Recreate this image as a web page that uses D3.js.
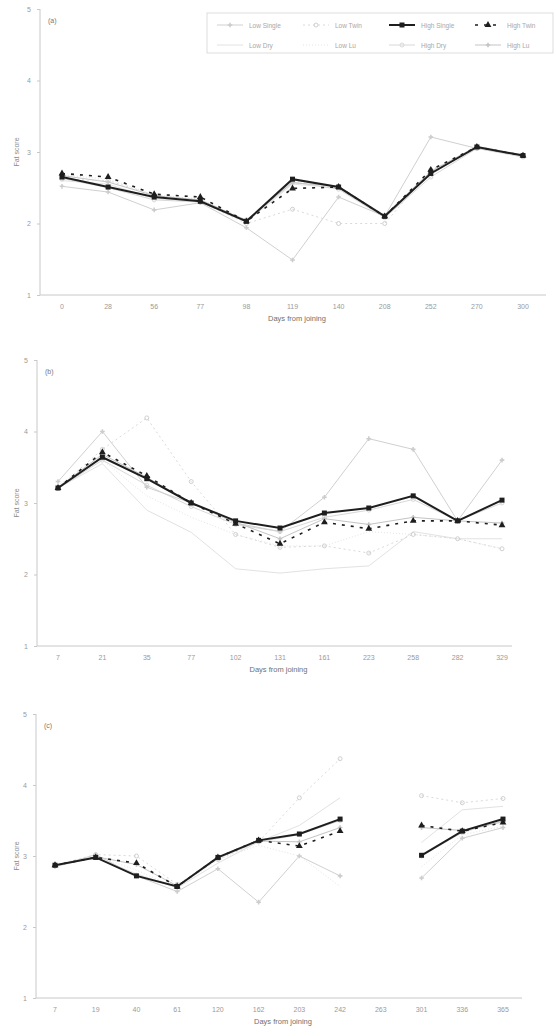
<!DOCTYPE html>
<html>
<head>
<meta charset="utf-8">
<script src="https://cdn.jsdelivr.net/npm/d3@7"></script>
<style>
  body { margin: 0; background: #fff; }
  svg { display: block; font-family: "Liberation Sans", Arial, sans-serif; }
  .tick text { fill: #9a9a9a; font-size: 7px; }
  .axis path, .axis line { stroke: #c8c8c8; }
</style>
</head>
<body>
<div id="chart"></div>
<script>
// series names (legend order)
const seriesNames = ['Low Single', 'Low Twin', 'High Single', 'High Twin',
                     'Low Dry', 'Low Lu', 'High Dry', 'High Lu'];

// panel (a)
const daysA = ['0', '28', '56', '77', '98', '119', '140', '208', '252', '270', '300'];
const lowSingleA  = [2.52, 2.44, 2.19, 2.29, 1.94, 1.49, 2.37, 2.10, 3.21, 3.05, 2.95];
const lowTwinA    = [2.62, 2.60, 2.40, 2.30, 2.00, 2.20, 2.00, 2.00, 2.75, 3.05, 2.95];
const highSingleA = [2.65, 2.51, 2.37, 2.31, 2.03, 2.62, 2.51, 2.10, 2.70, 3.07, 2.95];
const highTwinA   = [2.70, 2.65, 2.41, 2.37, 2.03, 2.49, 2.51, 2.10, 2.75, 3.07, 2.95];
const lowDryA     = [2.60, 2.55, 2.35, 2.30, 2.02, 2.55, 2.50, 2.12, 2.72, 3.05, 2.95];
const lowLuA      = [2.68, 2.62, 2.40, 2.34, 2.05, 2.60, 2.52, 2.12, 2.68, 3.06, 2.96];
const highDryA    = [2.63, 2.50, 2.33, 2.30, 2.05, 2.58, 2.48, 2.08, 2.65, 3.05, 2.93];
const highLuA     = [2.67, 2.58, 2.39, 2.33, 2.04, 2.57, 2.52, 2.11, 2.73, 3.08, 2.96];

// panel (b)
const daysB = ['7', '21', '35', '77', '102', '131', '161', '223', '258', '282', '329'];
const lowSingleB  = [3.30, 4.00, 3.22, 3.00, 2.72, 2.60, 3.08, 3.90, 3.75, 2.75, 3.60];
const lowTwinB    = [3.21, 3.75, 4.19, 3.30, 2.56, 2.38, 2.40, 2.30, 2.56, 2.50, 2.36];
const highSingleB = [3.21, 3.64, 3.34, 3.00, 2.75, 2.65, 2.86, 2.93, 3.10, 2.75, 3.04];
const highTwinB   = [3.21, 3.71, 3.38, 3.00, 2.71, 2.43, 2.73, 2.64, 2.75, 2.75, 2.69];
const lowDryB     = [3.21, 3.55, 2.90, 2.59, 2.08, 2.02, 2.08, 2.12, 2.60, 2.50, 2.50];
const lowLuB      = [3.25, 3.60, 3.10, 2.80, 2.56, 2.40, 2.40, 2.60, 2.56, 2.50, 2.36];
const highDryB    = [3.20, 3.60, 3.25, 2.95, 2.70, 2.60, 2.80, 2.90, 3.05, 2.75, 3.00];
const highLuB     = [3.22, 3.68, 3.36, 3.00, 2.73, 2.50, 2.78, 2.70, 2.80, 2.75, 2.72];

// panel (c) -- no data at day 263
const daysC = ['7', '19', '40', '61', '120', '162', '203', '242', '263', '301', '336', '365'];
const lowSingleC  = [2.85, 3.02, 2.72, 2.50, 2.82, 2.35, 3.00, 2.72, null, 2.69, 3.25, 3.40];
const lowTwinC    = [2.87, 3.02, 3.00, 2.60, 2.95, 3.20, 3.82, 4.37, null, 3.85, 3.75, 3.81];
const highSingleC = [2.87, 2.98, 2.72, 2.57, 2.98, 3.22, 3.31, 3.52, null, 3.01, 3.35, 3.52];
const highTwinC   = [2.87, 2.98, 2.90, 2.57, 2.98, 3.22, 3.14, 3.35, null, 3.43, 3.35, 3.47];
const lowDryC     = [2.85, 2.98, 2.75, 2.55, 2.90, 3.20, 3.43, 3.82, null, 3.19, 3.65, 3.70];
const lowLuC      = [2.86, 3.00, 2.80, 2.55, 2.95, 3.15, 3.00, 2.57, null, 2.85, 3.30, 3.42];
const highDryC    = [2.87, 2.99, 2.73, 2.57, 2.97, 3.20, 3.30, 3.50, null, 3.00, 3.33, 3.50];
const highLuC     = [2.87, 2.99, 2.88, 2.58, 2.97, 3.21, 3.20, 3.40, null, 3.40, 3.36, 3.48];

const yTicks = [1, 2, 3, 4, 5];

// drawing style per series
const styles = {
  'Low Single':  {stroke: '#d0d0d0', width: 1,   dash: null,  marker: 'cross',    mcol: '#cccccc'},
  'Low Twin':    {stroke: '#dadada', width: 1,   dash: '2,3', marker: 'circle',   mcol: '#d0d0d0'},
  'High Single': {stroke: '#1e1e1e', width: 2,   dash: null,  marker: 'square',   mcol: '#1e1e1e'},
  'High Twin':   {stroke: '#1e1e1e', width: 1.6, dash: '3,6', marker: 'triangle', mcol: '#1e1e1e'},
  'Low Dry':     {stroke: '#e2e2e2', width: 1,   dash: null,  marker: null,       mcol: '#e2e2e2'},
  'Low Lu':      {stroke: '#e4e4e4', width: 1,   dash: '1,2', marker: null,       mcol: '#e4e4e4'},
  'High Dry':    {stroke: '#d8d8d8', width: 1,   dash: null,  marker: 'circle',   mcol: '#d8d8d8'},
  'High Lu':     {stroke: '#c4c4c4', width: 1,   dash: null,  marker: 'cross',    mcol: '#c4c4c4'}
};

const panels = [
  {label: '(a)', days: daysA, x0: 62, x1: 523, axisX: 40, axisEnd: 546, yTop: 9, yBot: 295,
   series: [lowSingleA, lowTwinA, highSingleA, highTwinA, lowDryA, lowLuA, highDryA, highLuA]},
  {label: '(b)', days: daysB, x0: 58, x1: 502, axisX: 37, axisEnd: 512, yTop: 360, yBot: 646,
   series: [lowSingleB, lowTwinB, highSingleB, highTwinB, lowDryB, lowLuB, highDryB, highLuB]},
  {label: '(c)', days: daysC, x0: 55, x1: 503, axisX: 36, axisEnd: 522, yTop: 714, yBot: 998,
   series: [lowSingleC, lowTwinC, highSingleC, highTwinC, lowDryC, lowLuC, highDryC, highLuC]}
];

const svg = d3.select('#chart').append('svg')
    .attr('width', 556)
    .attr('height', 1036);

function drawMarker(g, type, x, y, col) {
  if (type === 'square') {
    g.append('rect').attr('x', x - 2.5).attr('y', y - 2.5).attr('width', 5).attr('height', 5).attr('fill', col);
  } else if (type === 'triangle') {
    g.append('path').attr('d', d3.symbol(d3.symbolTriangle, 20)()).attr('transform', `translate(${x},${y})`).attr('fill', col);
  } else if (type === 'circle') {
    g.append('circle').attr('cx', x).attr('cy', y).attr('r', 2).attr('fill', 'none').attr('stroke', col);
  } else if (type === 'cross') {
    g.append('path').attr('d', d3.symbol(d3.symbolCross, 12)()).attr('transform', `translate(${x},${y})`).attr('fill', col);
  }
}

panels.forEach(p => {
  const g = svg.append('g');

  const x = d3.scalePoint().domain(p.days).range([p.x0, p.x1]);
  const y = d3.scaleLinear().domain([1, 5]).range([p.yBot, p.yTop]);

  // y axis
  g.append('g')
      .attr('class', 'axis')
      .attr('transform', `translate(${p.axisX},0)`)
      .call(d3.axisLeft(y).tickValues(yTicks).tickFormat(d3.format('d')).tickSize(3).tickSizeOuter(0).tickPadding(6))
      .call(a => a.select('.domain').attr('d', `M0,${p.yTop}V${p.yBot}`));

  // x axis
  g.append('line')
      .attr('x1', p.axisX).attr('x2', p.axisEnd)
      .attr('y1', p.yBot).attr('y2', p.yBot)
      .attr('stroke', '#c8c8c8');
  g.selectAll('.xlab')
      .data(p.days)
    .join('text')
      .attr('class', 'xlab')
      .attr('x', d => x(d))
      .attr('y', p.yBot + 14)
      .attr('text-anchor', 'middle')
      .attr('font-size', 7)
      .attr('fill', '#9a9a9a')
      .text(d => d);

  g.append('text')
      .attr('x', (p.axisX + p.axisEnd) / 2 + 4)
      .attr('y', p.yBot + 26)
      .attr('text-anchor', 'middle')
      .attr('font-size', 7.5)
      .attr('fill', '#707070')
      .text('Days from joining');

  g.append('text')
      .attr('transform', `translate(19,${(p.yTop + p.yBot) / 2}) rotate(-90)`)
      .attr('text-anchor', 'middle')
      .attr('font-size', 7)
      .attr('fill', '#8a8a8a')
      .text('Fat score');

  g.append('text')
      .attr('x', p.axisX + 8)
      .attr('y', p.yTop + 14)
      .attr('font-size', 7)
      .attr('fill', '#777')
      .text(p.label);

  // series: draw grey ones first, black ones last
  const order = [4, 5, 6, 7, 0, 1, 3, 2];
  order.forEach(i => {
    const st = styles[seriesNames[i]];
    const vals = p.series[i].map((v, k) => ({day: p.days[k], v: v}));
    const line = d3.line()
        .defined(d => d.v !== null)
        .x(d => x(d.day))
        .y(d => y(d.v));
    g.append('path')
        .datum(vals)
        .attr('fill', 'none')
        .attr('stroke', st.stroke)
        .attr('stroke-width', st.width)
        .attr('stroke-dasharray', st.dash)
        .attr('d', line);
    if (st.marker) {
      const mg = g.append('g');
      vals.filter(d => d.v !== null).forEach(d => drawMarker(mg, st.marker, x(d.day), y(d.v), st.mcol));
    }
  });
});

// legend (panel a only)
const leg = svg.append('g').attr('transform', 'translate(207,13)');
leg.append('rect')
    .attr('width', 346).attr('height', 40)
    .attr('fill', '#fff').attr('stroke', '#d4d4d4').attr('stroke-width', 0.8);
seriesNames.forEach((name, i) => {
  const col = i % 4, row = Math.floor(i / 4);
  const lx = 10 + col * 86, ly = 12 + row * 20;
  const st = styles[name];
  const item = leg.append('g');
  item.append('line')
      .attr('x1', lx).attr('x2', lx + 26)
      .attr('y1', ly).attr('y2', ly)
      .attr('stroke', st.stroke)
      .attr('stroke-width', st.width)
      .attr('stroke-dasharray', st.dash);
  if (st.marker) drawMarker(item, st.marker, lx + 13, ly, st.mcol);
  item.append('text')
      .attr('x', lx + 32)
      .attr('y', ly + 2.5)
      .attr('font-size', 6.5)
      .attr('fill', '#a8a8a8')
      .text(name);
});
</script>
</body>
</html>
